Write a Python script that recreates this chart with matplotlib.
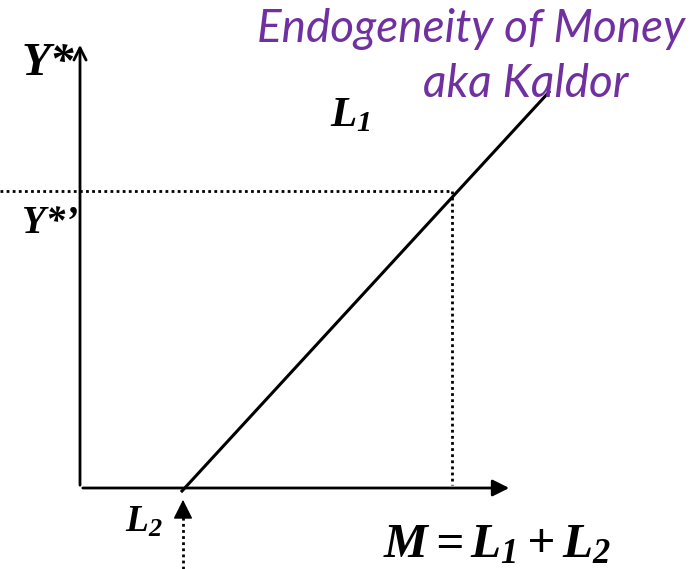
import matplotlib.pyplot as plt

# schematic values (data units, origin where the axes meet)
line_m = [1.02, 4.69]      # L curve: M = L1 + L2
line_y = [-0.03, 3.96]
y_star_prime = 2.97        # Y*' level
m_at_y = 3.72              # M at that level
x_axis_end = 4.32
y_axis_end = 4.46
l2_pos = 1.03

plt.rcParams['mathtext.fontset'] = 'custom'
plt.rcParams['mathtext.rm'] = 'Liberation Serif:bold:italic'
plt.rcParams['mathtext.it'] = 'Liberation Serif:bold:italic'
plt.rcParams['mathtext.bf'] = 'Liberation Serif:bold:italic'

fig = plt.figure(figsize=(7, 5.69), dpi=100)
ax = fig.add_axes([0, 0, 1, 1])
ax.set_xlim(-0.80, 6.20)
ax.set_ylim(-0.81, 4.88)
ax.axis('off')

# axes with arrow heads
ax.annotate('', xy=(0, y_axis_end), xytext=(0, 0),
            arrowprops=dict(arrowstyle='->', lw=2, color='black', mutation_scale=22))
ax.annotate('', xy=(x_axis_end, 0), xytext=(0, 0),
            arrowprops=dict(arrowstyle='-|>', lw=2, color='black', mutation_scale=25))

# the L line
ax.plot(line_m, line_y, color='black', lw=2.2)

# dotted guides
ax.plot([-0.80, m_at_y], [y_star_prime, y_star_prime], color='black', lw=2, ls=(0, (1, 1.2)))
ax.plot([m_at_y, m_at_y], [y_star_prime, 0.03], color='black', lw=2, ls=(0, (1, 1.2)))
ax.plot([l2_pos, l2_pos], [-0.81, -0.25], color='black', lw=2, ls=(0, (1, 1.2)))
ax.annotate('', xy=(l2_pos, -0.09), xytext=(l2_pos, -0.24),
            arrowprops=dict(arrowstyle='-|>', lw=1, color='black', mutation_scale=30))

serif = dict(family='Liberation Serif', weight='bold', style='italic', color='black')
ax.text(-0.58, 4.13, 'Y*', fontsize=34, va='baseline', ha='left', **serif)
ax.text(-0.58, 2.55, 'Y*\u2019', fontsize=28, va='baseline', ha='left', **serif)
ax.text(2.50, 3.62, r'$L_1$', fontsize=31, va='baseline', ha='left')
ax.text(0.45, -0.44, r'$L_2$', fontsize=27, va='baseline', ha='left')
ax.text(3.03, -0.69, r'$M = L_1 + L_2$', fontsize=35.5, va='baseline', ha='left')

purple = '#7030A0'
ax.text(3.91, 4.46, 'Endogeneity of Money', fontsize=33, family='Lato', style='italic',
        color=purple, ha='center', va='baseline')
ax.text(3.43, 3.91, 'aka Kaldor', fontsize=33, family='Lato', style='italic',
        color=purple, ha='left', va='baseline')

fig.savefig('out.png', dpi=100)
